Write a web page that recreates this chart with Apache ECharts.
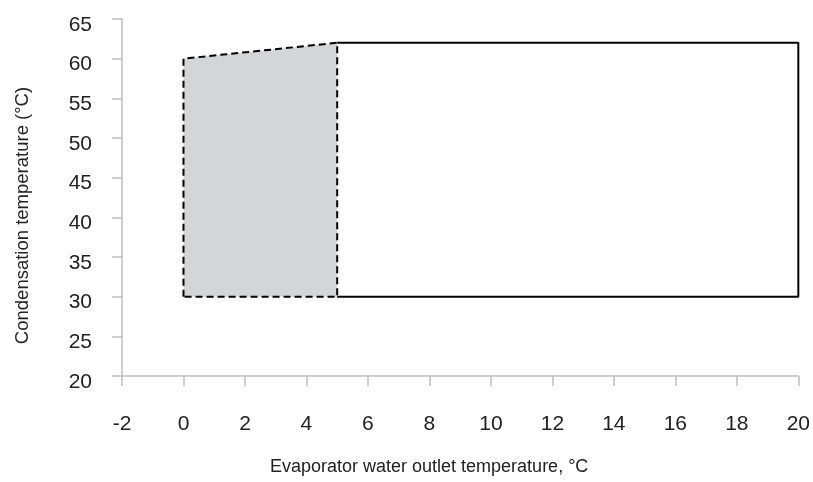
<!DOCTYPE html>
<html>
<head>
<meta charset="utf-8">
<script src="https://cdn.jsdelivr.net/npm/echarts@6/dist/echarts.min.js"></script>
<style>
  html, body { margin: 0; padding: 0; background: #fff; }
  #mychart { width: 813px; height: 482px; }
</style>
</head>
<body>
<div id="mychart"></div>
<script>
// extended zone (grey, dashed outline)
const extX = [0, 0, 5, 5, 0];
const extY = [30, 60, 62, 30, 30];
// standard zone (white, solid outline)
const stdX = [5, 20, 20, 5];
const stdY = [62, 62, 30, 30];
// axis ticks
const xTicks = [-2, 0, 2, 4, 6, 8, 10, 12, 14, 16, 18, 20];
const yTicks = [20, 25, 30, 35, 40, 45, 50, 55, 60, 65];

const pairs = (xs, ys) => xs.map((x, i) => [x, ys[i]]);

let myChart = echarts.init(document.getElementById('mychart'));

let option = {
  backgroundColor: '#fff',
  animation: false,
  grid: { left: 122, right: 14, top: 19, bottom: 106 },
  xAxis: {
    type: 'value',
    min: xTicks[0],
    max: xTicks[xTicks.length - 1],
    interval: 2,
    name: 'Evaporator water outlet temperature, °C',
    nameLocation: 'middle',
    nameGap: 82,
    nameTextStyle: { fontFamily: 'Liberation Sans', fontSize: 18, color: '#222', padding: [0, 62, 0, 0] },
    axisLine: { onZero: false, lineStyle: { color: '#bfbfbf', width: 1.5 } },
    axisTick: { show: true, inside: false, length: 10, lineStyle: { color: '#bfbfbf', width: 1.5 } },
    axisLabel: { margin: 38, fontFamily: 'Liberation Sans', fontSize: 21, color: '#222' },
    splitLine: { show: false }
  },
  yAxis: {
    type: 'value',
    min: yTicks[0],
    max: yTicks[yTicks.length - 1],
    interval: 5,
    name: 'Condensation temperature (°C)',
    nameLocation: 'middle',
    nameGap: 90,
    nameTextStyle: { fontFamily: 'Liberation Sans', fontSize: 18.5, color: '#222', padding: [0, 36, 0, 0] },
    axisLine: { show: true, onZero: false, lineStyle: { color: '#bfbfbf', width: 1.5 } },
    axisTick: { show: true, inside: false, length: 10, lineStyle: { color: '#bfbfbf', width: 1.5 } },
    axisLabel: { margin: 30, fontFamily: 'Liberation Sans', fontSize: 21, color: '#222', verticalAlign: 'top', lineHeight: 12 },
    splitLine: { show: false }
  },
  series: [
    {
      type: 'custom',
      data: pairs(extX, extY),
      silent: true,
      renderItem: function (params, api) {
        if (params.dataIndex !== 0) return;
        let pts = extX.map((x, i) => api.coord([x, extY[i]]));
        return {
          type: 'polygon',
          shape: { points: pts },
          style: { fill: '#d4d5d7', stroke: null }
        };
      },
      z: 1
    },
    {
      type: 'line',
      data: pairs(stdX, stdY),
      symbol: 'none',
      lineStyle: { color: '#000', width: 2, type: 'solid' },
      z: 2
    },
    {
      type: 'line',
      data: pairs(extX, extY),
      symbol: 'none',
      lineStyle: { color: '#000', width: 2, type: [7, 4] },
      z: 3
    }
  ]
};

myChart.setOption(option, true);
</script>
</body>
</html>
